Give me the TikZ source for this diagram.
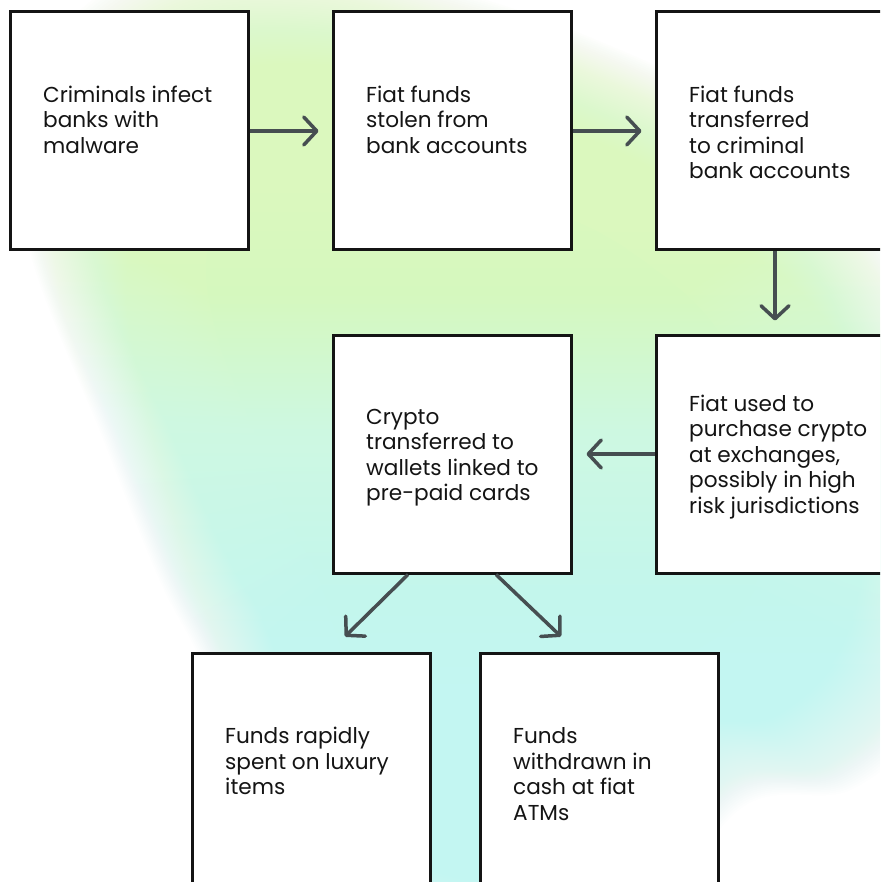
\documentclass[tikz,border=0pt]{standalone}
\usepackage{fontspec}
\setmainfont{Poppins}
\usetikzlibrary{arrows.meta,calc}
\definecolor{ygreen}{HTML}{DBF8BE}
\definecolor{mint}{HTML}{CEF8E1}
\definecolor{cyanbg}{HTML}{C3F6F2}
\definecolor{arrowc}{HTML}{464E51}
\definecolor{boxc}{HTML}{141414}
\pgfdeclareverticalshading{blobshade}{100bp}{color(0bp)=(cyanbg); color(40bp)=(cyanbg); color(53bp)=(mint); color(64bp)=(ygreen); color(100bp)=(ygreen)}
\tikzset{
  box/.style={draw=boxc, line width=3pt, fill=white, minimum width=238pt, minimum height=238pt, inner sep=0pt},
  txt/.style={inner sep=0pt, anchor=base west, text=boxc, font=\fontsize{21.6}{25.5}\selectfont},
  arr/.style={draw=arrowc, line width=3.5pt, -{Straight Barb[length=13pt,width=28pt,round]}}
}
\newcommand\lines[1]{\parbox[t]{230pt}{\raggedright #1}}
\newcommand\blobpath{plot[smooth cycle, tension=0.6] coordinates {(300,-25) (460,10) (590,55) (720,120) (860,240) (935,400) (945,560) (925,690) (840,775) (730,795) (620,940) (520,985) (330,920) (255,780) (215,660) (172,575) (118,440) (45,250) (40,100) (150,-10)}}
\begin{document}
\begin{tikzpicture}[x=1pt,y=-1pt]
\useasboundingbox (0,0) rectangle (880,882);
\clip (0,0) rectangle (880,882);
\fill[white] (0,0) rectangle (880,882);
% background blob: soft-edged stack of shaded copies
\begin{scope}[scale around={0.61:(480,450)}]
  \shade[shading=blobshade] \blobpath;
\end{scope}
\foreach \i in {0,...,85}{
  \pgfmathsetmacro\s{1.04-0.005*\i}
  \begin{scope}[scale around={\s:(480,450)}]
    \shade[shading=blobshade, opacity=0.032] \blobpath;
  \end{scope}
}
% boxes
\node[box] (b1) at (129,131) {};
\node[box] (b2) at (452,131) {};
\node[box] (b3) at (775,131) {};
\node[box] (b4) at (775,454) {};
\node[box] (b5) at (452,454) {};
\node[box] (b6) at (311,772) {};
\node[box] (b7) at (599,772) {};
% texts
\node[txt] (t1) at (43,102.5) {\lines{Criminals infect\\banks with\\malware}};
\node[txt] (t2) at (366,102.5) {\lines{Fiat funds\\stolen from\\bank accounts}};
\node[txt] (t3) at (689,102.5) {\lines{Fiat funds\\transferred\\to criminal\\bank accounts}};
\node[txt] (t4) at (689,411) {\lines{Fiat used to\\purchase crypto\\at exchanges,\\possibly in high\\risk jurisdictions}};
\node[txt] (t5) at (366,424) {\lines{Crypto\\transferred to\\wallets linked to\\pre-paid cards}};
\node[txt] (t6) at (225,743.5) {\lines{Funds rapidly\\spent on luxury\\items}};
\node[txt] (t7) at (513,743.5) {\lines{Funds\\withdrawn in\\cash at fiat\\ATMs}};
% connectors
\draw[arr, shorten >=13pt] (b1.east) -- (b2.west);
\draw[arr, shorten >=13pt] (b2.east) -- (b3.west);
\draw[arr, shorten >=13pt] (b3.south) -- (b4.north);
\draw[arr, shorten >=14pt] (b4.west) -- (b5.east);
\draw[arr] ([xshift=-44pt]b5.south) -- ([xshift=34pt,yshift=15pt]b6.north);
\draw[arr] ([xshift=44pt]b5.south) -- ([xshift=-38pt,yshift=15pt]b7.north);
\end{tikzpicture}
\end{document}
